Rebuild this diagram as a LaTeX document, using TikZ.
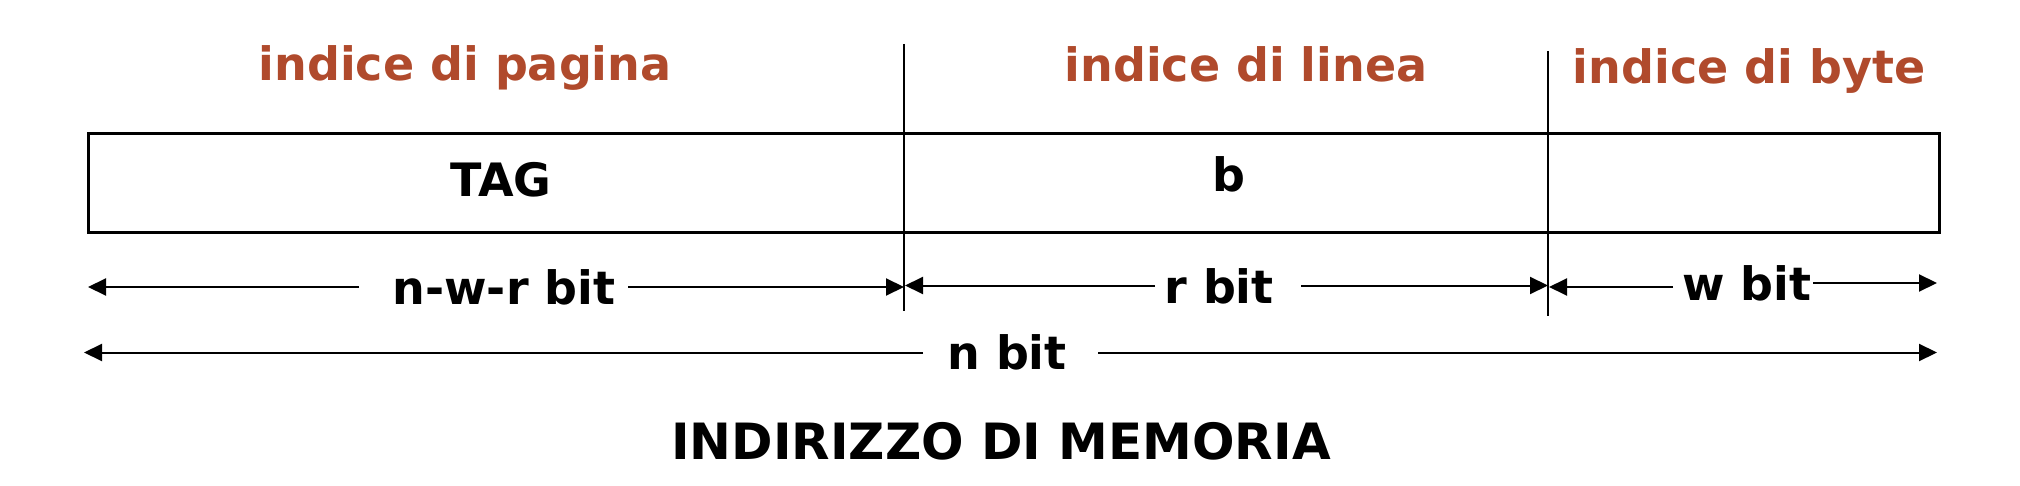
\documentclass[tikz,border=0pt]{standalone}
\usepackage{fontspec}
\setmainfont{DejaVu Sans}
\usetikzlibrary{arrows.meta}
\definecolor{idx}{RGB}{176,74,44}
\begin{document}
\begin{tikzpicture}[x=1pt,y=-1pt,
  lbl/.style={font=\fontsize{46}{50}\selectfont\bfseries, anchor=base, inner sep=0pt},
  idxlbl/.style={lbl, text=idx},
  titlelbl/.style={lbl, font=\fontsize{50}{54}\selectfont\bfseries},
  frame/.style={draw, line width=2.8pt, inner sep=0pt},
  divider/.style={line width=2.5pt},
  dimline/.style={line width=2pt},
  dimarrow/.style={dimline, -{Triangle[length=18pt,width=17pt]}},
]
\useasboundingbox (0,0) rectangle (2020,486);

% address box
\node[frame, minimum width=1851pt, minimum height=99pt, anchor=north west] (box) at (87,132) {};

% section labels
\node[idxlbl] (pag) at (465,81) {indice di pagina};
\node[idxlbl] (lin) at (1246,82) {indice di linea};
\node[idxlbl] (byt) at (1749,84) {indice di byte};

% field contents
\node[lbl] (tag) at (501,197) {TAG};
\node[lbl] (bb) at (1229,192) {b};

% dividers
\coordinate (v1t) at (904,44);
\coordinate (v1b) at (904,311);
\coordinate (v2t) at (1548,51);
\coordinate (v2b) at (1548,316);
\draw[divider] (v1t) -- (v1b);
\draw[divider] (v2t) -- (v2b);

% n-w-r bit
\node[lbl] (nwr) at (504,305) {n-w-r bit};
\coordinate (a1l) at (88,287);
\coordinate (a1la) at (359,287);
\coordinate (a1ra) at (628,287);
\coordinate (a1r) at (904,287);
\draw[dimarrow] (a1la) -- (a1l);
\draw[dimarrow] (a1ra) -- (a1r);

% r bit
\node[lbl] (rb) at (1219,303) {r bit};
\coordinate (a2l) at (905,285.5);
\coordinate (a2la) at (1155,285.5);
\coordinate (a2ra) at (1301,285.5);
\coordinate (a2r) at (1548,285.5);
\draw[dimarrow] (a2la) -- (a2l);
\draw[dimarrow] (a2ra) -- (a2r);

% w bit
\node[lbl] (wb) at (1747,300) {w bit};
\coordinate (a3l) at (1549,287);
\coordinate (a3la) at (1673,287);
\coordinate (a3ra) at (1813,283);
\coordinate (a3r) at (1937,283);
\draw[dimarrow] (a3la) -- (a3l);
\draw[dimarrow] (a3ra) -- (a3r);

% n bit
\node[lbl] (nb) at (1007,369) {n bit};
\coordinate (a4l) at (84,352.5);
\coordinate (a4la) at (923,352.5);
\coordinate (a4ra) at (1098,352.5);
\coordinate (a4r) at (1937,352.5);
\draw[dimarrow] (a4la) -- (a4l);
\draw[dimarrow] (a4ra) -- (a4r);

% caption
\node[titlelbl] (cap) at (1001,459.5) {INDIRIZZO DI MEMORIA};
\end{tikzpicture}
\end{document}
